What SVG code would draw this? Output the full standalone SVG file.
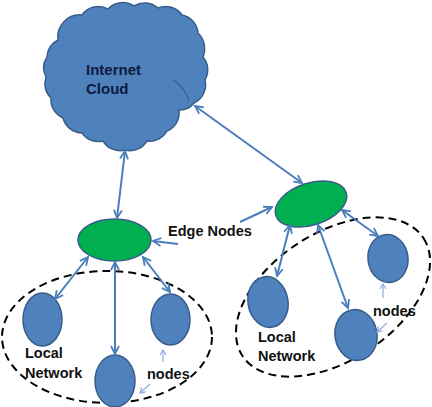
<svg xmlns="http://www.w3.org/2000/svg" width="432" height="407" viewBox="0 0 432 407">
<style>
.node{fill:#4F81BD;stroke:#385D8A;stroke-width:1.5}
.edge{fill:#00B050;stroke:#385D8A;stroke-width:1.5}
.net{fill:none;stroke:#000;stroke-width:2;stroke-dasharray:8,5}
.conn{stroke:#4A7EBB;stroke-width:2;fill:none}
.small{stroke:#8FAADC;stroke-width:1.2;fill:none}
.lbl{font-family:"Liberation Sans",Arial,sans-serif;font-weight:bold;font-size:14.5px;fill:#111}
.cl{font-family:"Liberation Sans",Arial,sans-serif;font-weight:bold;font-size:15px;fill:#0D1B3E}
</style>
<defs>
<marker id="ah" markerUnits="userSpaceOnUse" markerWidth="12" markerHeight="12" refX="9" refY="5" orient="auto-start-reverse" viewBox="0 0 12 10">
<path d="M1,1 L9,5 L1,9" fill="none" stroke="#4A7EBB" stroke-width="1.8"/>
</marker>
<marker id="ahs" markerUnits="userSpaceOnUse" markerWidth="8" markerHeight="8" refX="6" refY="4" orient="auto" viewBox="0 0 8 8">
<path d="M1,1 L6,4 L1,7" fill="none" stroke="#8FAADC" stroke-width="1.2"/>
</marker>
</defs>
<g id="cloud">
<path class="node" d="M58,40 A22,22 0 0 1 82,15 A20,20 0 0 1 108,9 A20,20 0 0 1 134,6 A20,20 0 0 1 158,8 A20,20 0 0 1 182,15 A20,20 0 0 1 198,33 A22,22 0 0 1 203,57 A20,20 0 0 1 205,80 A20,20 0 0 1 194,103 A18,18 0 0 1 179,110 A20,20 0 0 1 167,131 A20,20 0 0 1 147,141 A20,20 0 0 1 125,150 A20,20 0 0 1 103,141 A20,20 0 0 1 82,133 A20,20 0 0 1 63,118 A20,20 0 0 1 51,98 A20,20 0 0 1 46,77 A20,20 0 0 1 47,57 A20,20 0 0 1 58,40 Z"/>
<path d="M173,80 Q185,87 189,101" fill="none" stroke="#385D8A" stroke-width="1.2"/>
<text class="cl" x="86" y="75">Internet</text>
<text class="cl" x="86" y="94">Cloud</text>
</g>
<g id="edge-left">
<ellipse class="edge" cx="114.5" cy="240" rx="36.5" ry="21"/>
</g>
<g id="edge-right">
<ellipse class="edge" cx="311" cy="204" rx="37" ry="21" transform="rotate(-18 311 204)"/>
</g>
<g id="edge-label">
<text class="lbl" x="168" y="236">Edge Nodes</text>
</g>
<g id="network-left">
<ellipse class="net" cx="107" cy="337" rx="105" ry="66"/>
<text class="lbl" x="25" y="358">Local</text>
<text class="lbl" x="25" y="378">Network</text>
</g>
<g id="network-right">
<ellipse class="net" cx="333" cy="297" rx="108" ry="64" transform="rotate(-33 333 297)"/>
<text class="lbl" x="258" y="342">Local</text>
<text class="lbl" x="258" y="361">Network</text>
</g>
<g id="node-l1"><ellipse class="node" cx="42.5" cy="319.5" rx="19.5" ry="26.5"/></g>
<g id="node-l2"><ellipse class="node" cx="115" cy="381" rx="20" ry="26"/></g>
<g id="node-l3"><ellipse class="node" cx="170.5" cy="319.5" rx="19.5" ry="25.5"/></g>
<g id="node-r1"><ellipse class="node" cx="268" cy="302" rx="20" ry="25.5" transform="rotate(-10 268 302)"/></g>
<g id="node-r2"><ellipse class="node" cx="388" cy="258.5" rx="20" ry="24" transform="rotate(-8 388 258.5)"/></g>
<g id="node-r3"><ellipse class="node" cx="356" cy="335" rx="21" ry="25.5" transform="rotate(-10 356 335)"/></g>
<g id="nodes-labels">
<text class="lbl" x="147" y="379">nodes</text>
<text class="lbl" x="373" y="316">nodes</text>
</g>
<g id="connectors">
<line class="conn" x1="125" y1="151" x2="117" y2="218" marker-start="url(#ah)" marker-end="url(#ah)"/>
<line class="conn" x1="195" y1="106" x2="302" y2="183" marker-start="url(#ah)" marker-end="url(#ah)"/>
<line class="conn" x1="178" y1="244" x2="153" y2="241" marker-end="url(#ah)"/>
<line class="conn" x1="240" y1="222" x2="272" y2="207" marker-end="url(#ah)"/>
<line class="conn" x1="88" y1="257" x2="55" y2="299" marker-start="url(#ah)" marker-end="url(#ah)"/>
<line class="conn" x1="115" y1="262" x2="115" y2="354" marker-start="url(#ah)" marker-end="url(#ah)"/>
<line class="conn" x1="143" y1="257" x2="170" y2="292" marker-start="url(#ah)" marker-end="url(#ah)"/>
<line class="conn" x1="290" y1="225" x2="277" y2="276" marker-start="url(#ah)" marker-end="url(#ah)"/>
<line class="conn" x1="318" y1="225" x2="348" y2="308" marker-start="url(#ah)" marker-end="url(#ah)"/>
<line class="conn" x1="342" y1="210" x2="378" y2="236" marker-start="url(#ah)" marker-end="url(#ah)"/>
<line class="small" x1="163" y1="362" x2="163" y2="350" marker-end="url(#ahs)"/>
<line class="small" x1="150" y1="384" x2="140" y2="393" marker-end="url(#ahs)"/>
<line class="small" x1="383" y1="298" x2="383" y2="284" marker-end="url(#ahs)"/>
<line class="small" x1="387" y1="323" x2="377" y2="332" marker-end="url(#ahs)"/>
</g>
</svg>
